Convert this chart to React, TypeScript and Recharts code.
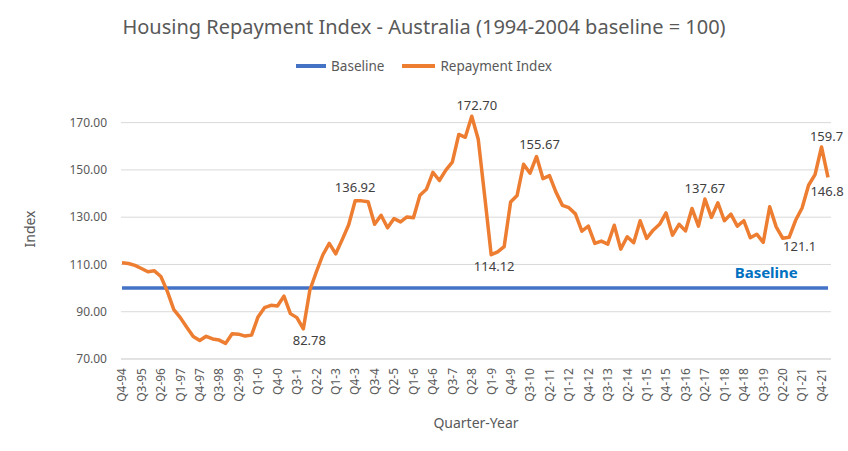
import React from 'react';
import { LineChart, Line, XAxis, YAxis, CartesianGrid } from 'recharts';

const FONT = '"Noto Sans", "Open Sans", sans-serif';

// Quarter labels, Q4-94 .. Q1-22
const QUARTERS = [
    'Q4-94',
    'Q1-95', 'Q2-95', 'Q3-95', 'Q4-95',
    'Q1-96', 'Q2-96', 'Q3-96', 'Q4-96',
    'Q1-97', 'Q2-97', 'Q3-97', 'Q4-97',
    'Q1-98', 'Q2-98', 'Q3-98', 'Q4-98',
    'Q1-99', 'Q2-99', 'Q3-99', 'Q4-99',
    'Q1-0', 'Q2-0', 'Q3-0', 'Q4-0',
    'Q1-1', 'Q2-1', 'Q3-1', 'Q4-1',
    'Q1-2', 'Q2-2', 'Q3-2', 'Q4-2',
    'Q1-3', 'Q2-3', 'Q3-3', 'Q4-3',
    'Q1-4', 'Q2-4', 'Q3-4', 'Q4-4',
    'Q1-5', 'Q2-5', 'Q3-5', 'Q4-5',
    'Q1-6', 'Q2-6', 'Q3-6', 'Q4-6',
    'Q1-7', 'Q2-7', 'Q3-7', 'Q4-7',
    'Q1-8', 'Q2-8', 'Q3-8', 'Q4-8',
    'Q1-9', 'Q2-9', 'Q3-9', 'Q4-9',
    'Q1-10', 'Q2-10', 'Q3-10', 'Q4-10',
    'Q1-11', 'Q2-11', 'Q3-11', 'Q4-11',
    'Q1-12', 'Q2-12', 'Q3-12', 'Q4-12',
    'Q1-13', 'Q2-13', 'Q3-13', 'Q4-13',
    'Q1-14', 'Q2-14', 'Q3-14', 'Q4-14',
    'Q1-15', 'Q2-15', 'Q3-15', 'Q4-15',
    'Q1-16', 'Q2-16', 'Q3-16', 'Q4-16',
    'Q1-17', 'Q2-17', 'Q3-17', 'Q4-17',
    'Q1-18', 'Q2-18', 'Q3-18', 'Q4-18',
    'Q1-19', 'Q2-19', 'Q3-19', 'Q4-19',
    'Q1-20', 'Q2-20', 'Q3-20', 'Q4-20',
    'Q1-21', 'Q2-21', 'Q3-21', 'Q4-21',
    'Q1-22',
];

// Repayment index
const REPAYMENT_INDEX = [
    110.7,
    110.4, 109.6, 108.3, 106.9,
    107.3, 104.9, 98.6, 90.9,
    87.5, 83.4, 79.5, 77.8,
    79.6, 78.5, 78.0, 76.6,
    80.7, 80.5, 79.7, 80.1,
    87.8, 91.7, 92.7, 92.4,
    96.6, 89.2, 87.5, 82.78,
    99.1, 106.8, 114.0, 118.9,
    114.5, 120.5, 126.8, 136.92,
    136.9, 136.5, 127.0, 130.8,
    125.5, 129.4, 128.0, 130.1,
    129.8, 139.3, 141.8, 149.0,
    145.5, 149.9, 153.3, 165.0,
    163.8, 172.7, 163.0, 138.8,
    114.12, 115.3, 117.5, 136.4,
    139.2, 152.4, 148.6, 155.67,
    146.3, 147.6, 140.6, 135.0,
    134.0, 131.4, 124.1, 126.2,
    118.9, 119.9, 118.6, 126.6,
    116.5, 121.7, 119.2, 128.5,
    121.0, 124.5, 127.0, 131.8,
    122.4, 127.0, 124.2, 133.7,
    126.2, 137.67, 129.9, 136.1,
    128.5, 131.3, 126.2, 128.5,
    121.3, 122.8, 119.3, 134.4,
    125.9, 121.1, 121.5, 128.7,
    133.9, 143.5, 148.0, 159.7,
    146.8,
];

const BASELINE_VALUE = 100;

const Y_TICKS = [70, 90, 110, 130, 150, 170];

// data labels shown on the repayment line (by point index)
const CALLOUTS: Record<number, string> = {
    28: '82.78',
    36: '136.92',
    54: '172.70',
    57: '114.12',
    64: '155.67',
    90: '137.67',
    102: '121.1',
    108: '159.7',
    109: '146.8',
};

// where each callout sits relative to its point
const CALLOUT_OFFSET: Record<number, [number, number]> = {
    28: [6, 12],
    36: [0, -13],
    54: [5, -11],
    57: [3, 12],
    64: [3, -12],
    90: [0, -11],
    102: [17, 8],
    108: [5, -11],
    109: [-1, 14],
};

const chartData = QUARTERS.map((quarter, i) => ({
    quarter,
    repayment: REPAYMENT_INDEX[i],
    baseline: BASELINE_VALUE,
}));

const QuarterTick = (props: any) => {
    const { x, y, payload } = props;
    return (
        <text
            x={x}
            y={y + 1}
            transform={`rotate(-90, ${x}, ${y + 1})`}
            textAnchor="end"
            dy="0.36em"
            fill="#595959"
            fontSize={12}
            fontFamily={FONT}
        >
            {payload.value}
        </text>
    );
};

const renderCallout = (props: any) => {
    const { cx, cy, index } = props;
    const text = CALLOUTS[index];
    if (!text) return <g key={`c-${index}`} />;
    const [dx, dy] = CALLOUT_OFFSET[index];
    return (
        <text
            key={`c-${index}`}
            x={cx + dx}
            y={cy + dy}
            dy="0.35em"
            textAnchor="middle"
            fill="#404040"
            fontSize={13}
            fontFamily={FONT}
        >
            {text}
        </text>
    );
};

const renderBaselineTag = (props: any) => {
    const { cx, cy, index } = props;
    if (index !== 99) return <g key={`b-${index}`} />;
    return (
        <text
            key={`b-${index}`}
            x={cx + 3}
            y={cy - 15}
            dy="0.35em"
            textAnchor="middle"
            fill="#0070C0"
            fontSize={15}
            fontWeight="bold"
            fontFamily={FONT}
        >
            Baseline
        </text>
    );
};

const ChartLegend = () => (
    <div
        style={{
            position: 'absolute',
            top: 57,
            left: 0,
            width: 848,
            display: 'flex',
            justifyContent: 'center',
            alignItems: 'center',
            fontFamily: FONT,
            fontSize: 13.5,
            color: '#595959',
            lineHeight: '18px',
        }}
    >
        <span style={{ display: 'inline-block', width: 30, height: 4, background: '#4472C4', marginRight: 5 }} />
        <span style={{ marginRight: 18 }}>Baseline</span>
        <span style={{ display: 'inline-block', width: 33, height: 4, background: '#ED7D31', marginRight: 5 }} />
        <span>Repayment Index</span>
    </div>
);

export default function App() {
    return (
        <div style={{ position: 'absolute', left: 0, top: 0, width: 848, height: 451, background: '#fff' }}>
            <div
                style={{
                    position: 'absolute',
                    top: 13,
                    left: 0,
                    width: 848,
                    textAlign: 'center',
                    fontFamily: FONT,
                    fontSize: 20,
                    color: '#595959',
                    lineHeight: '28px',
                }}
            >
                Housing Repayment Index - Australia (1994-2004 baseline = 100)
            </div>
            <ChartLegend />
            <LineChart
                width={848}
                height={451}
                data={chartData}
                margin={{ top: 99, right: 17, bottom: 0, left: 0 }}
                style={{ position: 'absolute', left: 0, top: 0 }}
            >
                <CartesianGrid vertical={false} horizontalValues={Y_TICKS} stroke="#D9D9D9" strokeWidth={1} />
                <XAxis
                    dataKey="quarter"
                    height={92}
                    interval={2}
                    tickLine={false}
                    axisLine={{ stroke: '#D9D9D9' }}
                    tick={<QuarterTick />}
                    padding={{ left: 1, right: 3 }}
                    label={{
                        value: 'Quarter-Year',
                        position: 'insideBottom',
                        offset: 23,
                        style: { fill: '#595959', fontSize: 14, fontFamily: FONT },
                    }}
                />
                <YAxis
                    width={121}
                    domain={[70, 180]}
                    ticks={Y_TICKS}
                    tickFormatter={(v: number) => v.toFixed(2)}
                    axisLine={false}
                    tickLine={false}
                    tickMargin={8}
                    tick={{ fill: '#595959', fontSize: 12, fontFamily: FONT }}
                    label={{
                        value: 'Index',
                        angle: -90,
                        position: 'center',
                        dx: -30,
                        style: { fill: '#595959', fontSize: 14, fontFamily: FONT, textAnchor: 'middle' },
                    }}
                />
                <Line
                    type="linear"
                    dataKey="baseline"
                    name="Baseline"
                    stroke="#4472C4"
                    strokeWidth={3.5}
                    dot={renderBaselineTag}
                    activeDot={false}
                    isAnimationActive={false}
                />
                <Line
                    type="linear"
                    dataKey="repayment"
                    name="Repayment Index"
                    stroke="#ED7D31"
                    strokeWidth={3.5}
                    strokeLinejoin="round"
                    dot={renderCallout}
                    activeDot={false}
                    isAnimationActive={false}
                />
            </LineChart>
        </div>
    );
}
